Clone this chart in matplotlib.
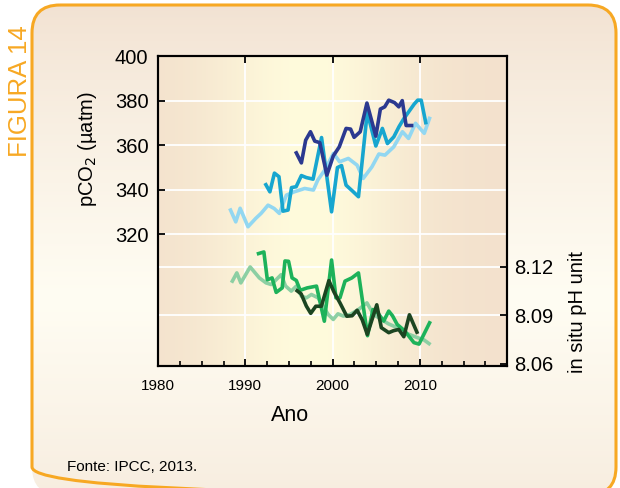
import numpy as np
import matplotlib
matplotlib.use("Agg")
import matplotlib.pyplot as plt
from matplotlib.patches import FancyBboxPatch
from matplotlib.ticker import MultipleLocator, FixedLocator

plt.rcParams['font.family'] = ['Liberation Sans', 'DejaVu Sans']

# pCO2 (uatm), left axis
hot_year = [1988.3, 1988.9, 1989.4, 1990.3, 1991.2, 1991.8, 1992.6, 1993.3, 1993.9, 1994.7,
            1995.6, 1996.8, 1997.8, 1998.3, 1999.1, 2000.1, 2000.8, 2001.8, 2002.8, 2003.5,
            2004.5, 2005.3, 2006.0, 2007.0, 2008.0, 2008.7, 2009.5, 2010.5, 2011.1]
hot_pco2 = [330.8, 325.5, 331.6, 323.3, 327.1, 329.3, 333.0, 331.5, 329.3, 337.5,
            339.0, 340.5, 339.8, 344.3, 348.8, 356.3, 352.5, 354.0, 351.0, 345.0,
            350.2, 356.0, 355.5, 359.2, 366.0, 363.0, 369.8, 365.3, 372.0]

bats_year = [1992.35, 1992.81, 1993.33, 1993.85, 1994.31, 1994.89, 1995.29, 1995.82, 1996.42, 1996.99,
             1997.76, 1998.73, 1999.88, 2000.55, 2001.02, 2001.54, 2002.29, 2002.96, 2003.97, 2004.95,
             2005.70, 2006.28, 2007.01, 2007.61, 2008.18, 2009.34, 2009.75, 2010.15, 2010.67]
bats_pco2 = [342.2, 339.0, 347.4, 345.8, 330.3, 330.8, 340.9, 341.3, 346.3, 345.4,
             344.7, 363.4, 330.0, 349.9, 350.8, 342.0, 339.3, 336.8, 374.8, 359.6,
             367.5, 360.7, 363.7, 368.3, 372.0, 378.4, 380.2, 380.2, 370.1]

estoc_year = [1995.84, 1996.42, 1996.91, 1997.46, 1997.95, 1998.53, 1999.34, 2000.07, 2000.76, 2001.54,
              2002.06, 2002.46, 2003.16, 2003.93, 2004.95, 2005.47, 2005.97, 2006.43, 2007.09, 2007.58,
              2007.98, 2008.42, 2009.05]
estoc_pco2 = [356.5, 352.0, 362.2, 366.0, 361.8, 361.1, 346.5, 355.1, 359.2, 367.5,
              367.2, 363.5, 366.0, 378.9, 364.0, 376.2, 377.2, 380.2, 379.1, 377.2,
              380.0, 368.8, 368.8]

# in situ pH, right axis
hot_ph_year = [1988.51, 1989.02, 1989.48, 1990.55, 1991.60, 1992.37, 1992.95, 1993.53, 1994.10, 1994.60,
               1995.26, 1995.84, 1996.42, 1996.99, 1997.57, 1998.34, 1998.88, 1999.49, 2000.07, 2000.61,
               2001.23, 2002.00, 2002.92, 2003.93, 2004.69, 2005.47, 2006.39, 2007.40, 2008.55, 2009.71,
               2010.44, 2011.05]
hot_ph = [8.1112, 8.1163, 8.1101, 8.1200, 8.1132, 8.1101, 8.1091, 8.1121, 8.1152, 8.1082,
          8.1050, 8.1081, 8.1019, 8.1008, 8.1029, 8.1008, 8.0959, 8.0905, 8.0874, 8.0909,
          8.0895, 8.0905, 8.0934, 8.0977, 8.0905, 8.0878, 8.0847, 8.0823, 8.0786, 8.0761,
          8.0748, 8.0724]

bats_ph_year = [1991.51, 1992.12, 1992.52, 1993.06, 1993.53, 1994.22, 1994.54, 1994.95, 1995.35, 1995.84,
                1996.28, 1997.09, 1998.15, 1999.05, 1999.88, 2000.38, 2000.84, 2001.42, 2002.20, 2002.96,
                2004.00, 2004.62, 2005.18, 2005.85, 2006.43, 2006.86, 2007.40, 2008.24, 2009.32, 2009.90,
                2011.11]
bats_ph = [8.1283, 8.1293, 8.1120, 8.1132, 8.1042, 8.1070, 8.1237, 8.1235, 8.1132, 8.1116,
           8.1055, 8.1070, 8.1081, 8.0863, 8.1243, 8.1008, 8.1008, 8.1112, 8.1132, 8.1163,
           8.0773, 8.0936, 8.0915, 8.0864, 8.0926, 8.0897, 8.0843, 8.0804, 8.0730, 8.0721,
           8.0853]

estoc_ph_year = [1995.93, 1996.39, 1996.99, 1997.49, 1998.07, 1998.71, 1999.57, 2000.15, 2000.84, 2001.62,
                 2002.23, 2002.81, 2003.39, 2003.97, 2005.06, 2005.58, 2006.43, 2006.97, 2007.58, 2008.16,
                 2008.80, 2009.66]
estoc_ph = [8.1052, 8.1033, 8.0957, 8.0912, 8.0956, 8.0956, 8.1115, 8.1045, 8.0977, 8.0894,
            8.0897, 8.0931, 8.0872, 8.0781, 8.0965, 8.0823, 8.0792, 8.0804, 8.0812, 8.0767,
            8.0903, 8.0795]

orange = '#f7a823'

fig = plt.figure(figsize=(6.2, 4.88), dpi=100)
fig.patch.set_facecolor('white')

# background panel with rounded orange border
bg = fig.add_axes([0, 0, 1, 1])
bg.set_xlim(0, 620)
bg.set_ylim(488, 0)
bg.axis('off')
t = np.linspace(0, 1, 256)[:, None]
top_c = np.array([242, 226, 210]) / 255
mid_c = np.array([255, 253, 243]) / 255
w = np.clip(1 - np.abs(t - 0.6) / 0.6, 0, 1) ** 0.8
grad = top_c + (mid_c - top_c) * w[..., None]
grad = np.repeat(grad, 2, axis=1)
box = FancyBboxPatch((32, 5), 584, 490, boxstyle="round,pad=0,rounding_size=28",
                     facecolor='none', edgecolor=orange, linewidth=2.2, zorder=3)
img = bg.imshow(grad, extent=[32, 616, 495, 5], aspect='auto', zorder=1)
bg.add_patch(box)
img.set_clip_path(box)
bg.text(20, 91, 'FIGURA 14', rotation=90, color=orange, fontsize=18.5,
        ha='center', va='center')
bg.text(67, 467, 'Fonte: IPCC, 2013.', fontsize=11, ha='left', va='center')

# main chart
ax = fig.add_axes([0.255, 0.25, 0.563, 0.635])
ax.set_xlim(1980, 2020)
ax.set_ylim(260.7, 400)
xs = np.linspace(0, 1, 400)
c_edge = np.array([243, 225, 205]) / 255
c_mid = np.array([255, 251, 220]) / 255
wx = np.exp(-((xs - 0.43) / 0.28) ** 2)
hgrad = c_edge + (c_mid - c_edge) * wx[:, None]
ax.imshow(hgrad[None, :, :], extent=[1980, 2020, 260.7, 400], aspect='auto', zorder=0)

ax.set_yticks([320, 340, 360, 380, 400])
ax.xaxis.set_major_locator(FixedLocator([1980, 1990, 2000, 2010, 2020]))
ax.set_xticklabels(['1980', '1990', '2000', '2010', ''])
ax.xaxis.set_minor_locator(MultipleLocator(2.5))
for y in [320, 340, 360, 380]:
    ax.axhline(y, color='white', lw=1.3, zorder=1)
for x in [1990, 2000, 2010]:
    ax.axvline(x, color='white', lw=1.3, zorder=1)

ax.plot(hot_year, hot_pco2, color='#92d7f1', lw=2.6, zorder=3)
ax.plot(bats_year, bats_pco2, color='#17a6cf', lw=2.6, zorder=4)
ax.plot(estoc_year, estoc_pco2, color='#2b3990', lw=2.6, zorder=5)

ax.tick_params(axis='y', which='major', direction='in', length=5, width=1.3,
               labelsize=14.5, pad=7, right=False)
ax.tick_params(axis='x', which='major', direction='in', length=5, width=1.3,
               labelsize=11, pad=9, top=True)
ax.tick_params(axis='x', which='minor', direction='in', length=3.5, width=1.2, top=False)
ax.set_ylabel('pCO$_2$ (µatm)', fontsize=14.5)
ax.yaxis.set_label_coords(-0.168, 0.70)
ax.set_xlabel('Ano', fontsize=15.5)
ax.xaxis.set_label_coords(0.378, -0.125)
for s in ax.spines.values():
    s.set_linewidth(1.5)

ax2 = ax.twinx()
ax2.set_ylim(8.0585, 8.2509)
ax2.set_yticks([8.06, 8.09, 8.12])
ax2.set_yticklabels(['8.06', '8.09', '8.12'])
for y in [8.09, 8.12]:
    ax2.axhline(y, color='white', lw=1.3, zorder=1)
ax2.plot(hot_ph_year, hot_ph, color='#8ccfa3', lw=2.6, zorder=3)
ax2.plot(bats_ph_year, bats_ph, color='#1db25a', lw=2.6, zorder=4)
ax2.plot(estoc_ph_year, estoc_ph, color='#1c4521', lw=2.6, zorder=5)
ax2.tick_params(axis='y', direction='in', length=5, width=1.3, labelsize=14.5, pad=5)
ax2.set_ylabel('in situ pH unit', fontsize=14.5)
ax2.yaxis.set_label_coords(1.175, 0.174)
for s in ax2.spines.values():
    s.set_linewidth(1.5)

fig.savefig('out.png', dpi=100)
